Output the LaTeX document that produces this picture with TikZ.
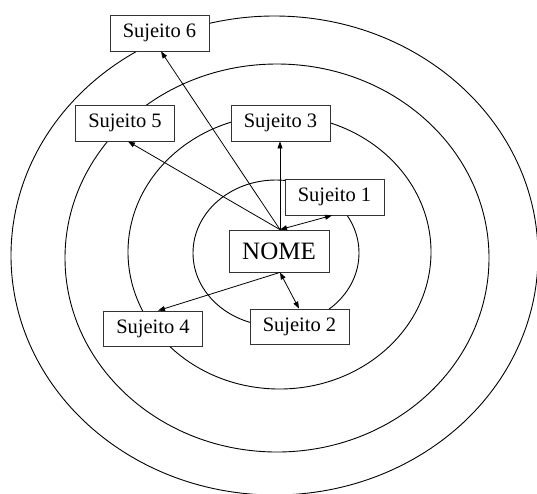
\documentclass[tikz,border=0pt]{standalone}
\usepackage{fontspec}
\setmainfont{Liberation Serif}
\usetikzlibrary{arrows.meta}
\begin{document}
\begin{tikzpicture}[x=1pt,y=-1pt,
  ring/.style={draw=black,line width=0.9pt},
  subj/.style={draw=black!80,line width=0.8pt,fill=white,minimum width=99pt,minimum height=36pt,inner sep=0pt,font=\fontsize{20.5}{22}\selectfont},
  hub/.style={draw=black!80,line width=0.8pt,fill=white,minimum width=100pt,minimum height=42pt,inner sep=0pt,font=\fontsize{25}{27}\selectfont},
  link/.style={line width=0.8pt,-{Triangle[length=7pt,width=5pt]}},
  dlink/.style={line width=0.8pt,{Triangle[length=7pt,width=5pt]}-{Triangle[length=7pt,width=5pt]}}]
\useasboundingbox (0,0) rectangle (537,493);
% rings
\draw[ring] (274.5,255.5) ellipse [x radius=263.5, y radius=239.5];
\draw[ring] (277,258) ellipse [x radius=212, y radius=194];
\draw[ring] (279.5,252) ellipse [x radius=151.5, y radius=137];
\draw[ring] (276,253) ellipse [x radius=83, y radius=73];
% nodes
\node[hub]  (nome) at (279,251) {NOME};
\node[subj] (s6) at (159.5,33) {Sujeito 6};
\node[subj] (s5) at (125,123) {Sujeito 5};
\node[subj] (s3) at (280.5,123) {Sujeito 3};
\node[subj] (s1) at (334.5,197) {Sujeito 1};
\node[subj,minimum height=35pt] (s4) at (153,328.5) {Sujeito 4};
\node[subj,minimum height=35pt] (s2) at (299.5,326.5) {Sujeito 2};
% connectors
\draw[link] ([xshift=1pt]nome.north) -- ([xshift=1.5pt]s6.south);
\draw[link] ([xshift=1pt]nome.north) -- ([xshift=3pt]s5.south);
\draw[link] ([xshift=1pt]nome.north) -- ([xshift=-0.5pt]s3.south);
\draw[dlink] ([xshift=1pt]nome.north) -- ([xshift=-2.5pt]s1.south);
\draw[link] ([xshift=1pt]nome.south) -- ([xshift=5pt]s4.north);
\draw[dlink] ([xshift=1pt]nome.south) -- ([xshift=-0.5pt]s2.north);
\end{tikzpicture}
\end{document}
